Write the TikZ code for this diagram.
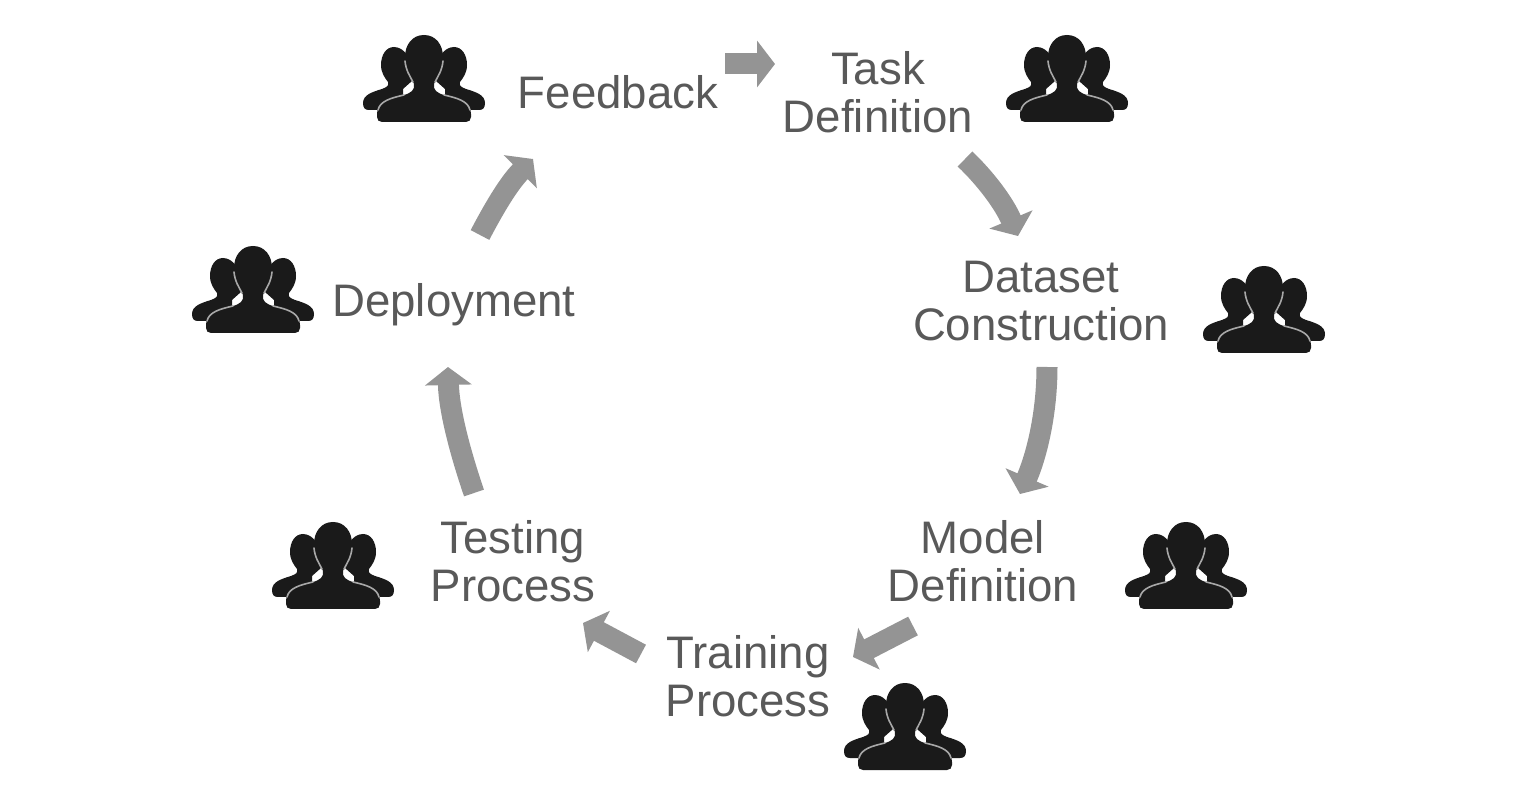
\documentclass[tikz,border=0pt]{standalone}
\usepackage{fontspec}
\setmainfont{Liberation Sans}
\usetikzlibrary{arrows.meta}
\definecolor{labelgray}{HTML}{595959}
\definecolor{arrowgray}{HTML}{949494}
\definecolor{iconblack}{HTML}{1A1A1A}
\definecolor{iconedge}{HTML}{A8A8A8}
\tikzset{
  x=0.5pt,y=-0.5pt,
  lbl/.style={text=labelgray,align=center,inner sep=0pt,font=\fontsize{22.8}{24}\selectfont},
  flow/.style={draw=arrowgray,line width=10.5pt,-{Triangle[width=23pt,length=9pt]}},
  people/.pic={
    % back figures
    \fill[iconblack] (-30,12) .. controls (-38,12) and (-43,20) .. (-43,30)
      .. controls (-43,38) and (-39,43) .. (-36,47) .. controls (-35,51) and (-37,52) .. (-42,54)
      .. controls (-52,57) and (-61,60) .. (-61,68) .. controls (-61,73) and (-59,75) .. (-55,75)
      -- (-30,75) -- (-21,61) -- (-21,54) -- (-12,46) -- (-17,20) .. controls (-20,15) and (-25,12) .. (-30,12) -- cycle;
    \fill[iconblack] (30,12) .. controls (38,12) and (43,20) .. (43,30)
      .. controls (43,38) and (39,43) .. (36,47) .. controls (35,51) and (37,52) .. (42,54)
      .. controls (52,57) and (61,60) .. (61,68) .. controls (61,73) and (59,75) .. (55,75)
      -- (30,75) -- (21,61) -- (21,54) -- (12,46) -- (17,20) .. controls (20,15) and (25,12) .. (30,12) -- cycle;
    % front figure
    \fill[iconblack]
      (0,0) .. controls (-12,0) and (-19,10) .. (-19,22)
      .. controls (-19,34) and (-13,42) .. (-10,49) .. controls (-9,55) and (-13,58) .. (-20,60)
      .. controls (-35,63) and (-47,67) .. (-47,79) -- (-47,82)
      .. controls (-47,85) and (-45,87) .. (-42,87) -- (42,87)
      .. controls (45,87) and (47,85) .. (47,82) -- (47,79)
      .. controls (47,67) and (35,63) .. (20,60) .. controls (13,58) and (9,55) .. (10,49)
      .. controls (13,42) and (19,34) .. (19,22) .. controls (19,10) and (12,0) .. (0,0) -- cycle;
    % thin light edge of the front figure, where it crosses the back ones
    \draw[iconedge,line width=0.8pt,line cap=round]
      (-19,26) .. controls (-18,36) and (-14,41) .. (-11,47);
    \draw[iconedge,line width=0.8pt,line cap=round]
      (-20,60) .. controls (-33,63) and (-44,66) .. (-46,75);
    \draw[iconedge,line width=0.8pt,line cap=round]
      (19,26) .. controls (18,36) and (14,41) .. (11,47);
    \draw[iconedge,line width=0.8pt,line cap=round]
      (20,60) .. controls (33,63) and (44,66) .. (46,75);
  }
}
\begin{document}
\begin{tikzpicture}
\useasboundingbox (0,0) rectangle (1539,786);
\pic at (424,35) {people};
\pic at (1067,35) {people};
\pic at (1264,266) {people};
\pic at (253,246) {people};
\pic at (333,522) {people};
\pic at (1186,522) {people};
\pic at (905,683) {people};
\node[lbl] (feedback) at (618,92) {Feedback};
\node[lbl] (task) at (878,92) {Task\\Definition};
\node[lbl] (dataset) at (1041,301) {Dataset\\Construction};
\node[lbl] (model) at (983,561) {Model\\Definition};
\node[lbl] (training) at (748,676) {Training\\Process};
\node[lbl] (testing) at (513,561) {Testing\\Process};
\node[lbl] (deployment) at (454,305) {Deployment};
\coordinate (a1s) at (725,64); \coordinate (a1e) at (775,64);
\coordinate (a2s) at (965,159); \coordinate (a2e) at (1018,236);
\coordinate (a3s) at (1047,367); \coordinate (a3e) at (1020,494);
\coordinate (a4s) at (913,626); \coordinate (a4e) at (853,657);
\coordinate (a5s) at (641,654); \coordinate (a5e) at (583,623);
\coordinate (a6s) at (474,493); \coordinate (a6e) at (448,367);
\coordinate (a7s) at (480,235); \coordinate (a7e) at (533,159);
\draw[flow] (a1s) -- (a1e);
\draw[flow] (a2s) .. controls (985,178) and (1004,203) .. (a2e);
\draw[flow] (a3s) .. controls (1047,410) and (1038,452) .. (a3e);
\draw[flow] (a4s) -- (a4e);
\draw[flow] (a5s) -- (a5e);
\draw[flow] (a6s) .. controls (460,452) and (449,410) .. (a6e);
\draw[flow] (a7s) .. controls (492,212) and (508,184) .. (a7e);
\end{tikzpicture}
\end{document}
